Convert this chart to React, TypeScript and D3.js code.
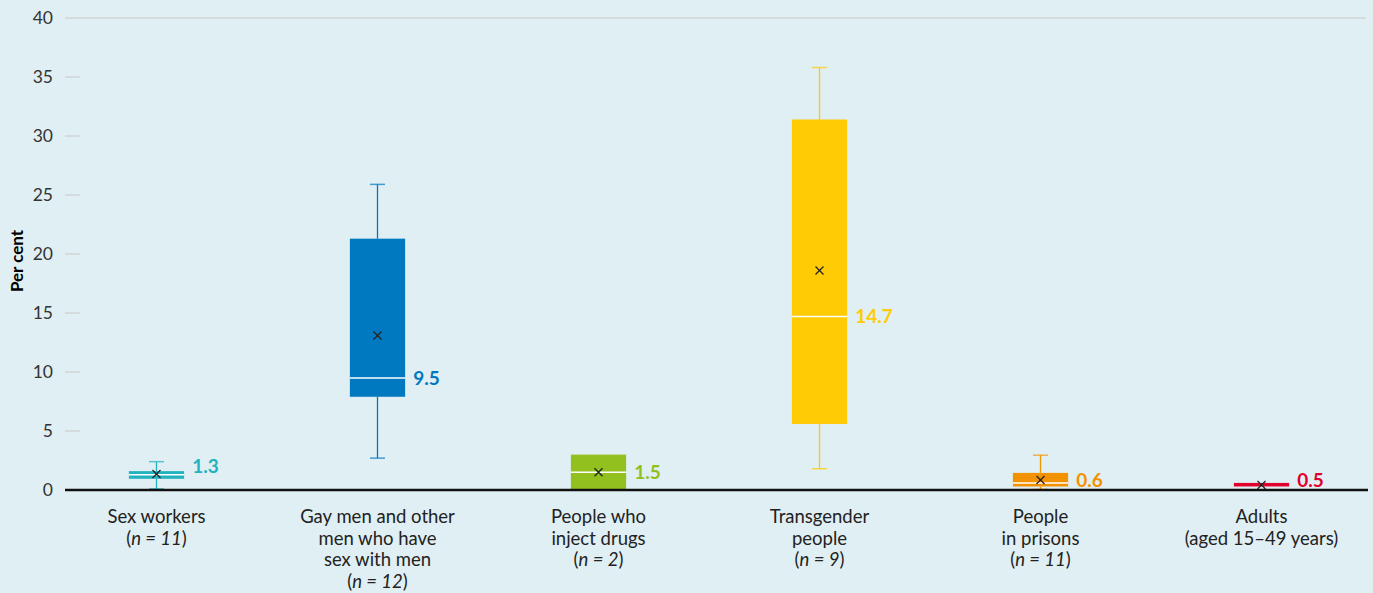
import React from "react";
import * as d3 from "d3";

const categories = ["Sex workers", "Gay men and other men who have sex with men", "People who inject drugs", "Transgender people", "People in prisons", "Adults (aged 15–49 years)"];
const labelLines: string[][] = [
  ["Sex workers"],
  ["Gay men and other", "men who have", "sex with men"],
  ["People who", "inject drugs"],
  ["Transgender", "people"],
  ["People", "in prisons"],
  ["Adults", "(aged 15–49 years)"],
];
const nCounts: (number | null)[] = [11, 12, 2, 9, 11, null];
const mins: (number | null)[] = [0.1, 2.7, null, 1.8, 0.05, null];
const q1s = [0.95, 7.9, 0.0, 5.6, 0.3, 0.3];
const medians = [1.3, 9.5, 1.5, 14.7, 0.6, 0.5];
const q3s = [1.6, 21.3, 3.0, 31.4, 1.45, 0.6];
const maxs: (number | null)[] = [2.4, 25.9, null, 35.8, 2.95, null];
const means = [1.35, 13.1, 1.5, 18.6, 0.85, 0.42];
const colors = ["#22b3bf", "#0079c1", "#92c01f", "#ffcb05", "#f39200", "#e2002c"];
const yTicks = [0, 5, 10, 15, 20, 25, 30, 35, 40];

const W = 1373, H = 593;
const FONT = "Lato, 'Noto Sans', sans-serif";

export default function App() {
  const y = d3.scaleLinear().domain([0, 40]).range([490, 18]);
  const x = d3.scaleBand<number>().domain(d3.range(categories.length)).range([46, 1372]).paddingInner(0.75).paddingOuter(0.375);
  const bw = x.bandwidth();
  const labelNudge = (i: number) => {
    const ym = y(medians[i]);
    if (i === 0) return ym - 8;
    return Math.min(ym, y(0) - 10);
  };
  return (
    <svg width={W} height={H} style={{ position: "absolute", left: 0, top: 0, background: "#e0eff3" }}>
      <rect x={0} y={0} width={W} height={H} fill="#e0eff3" />
      {yTicks.map((t) => (
        <g key={t}>
          <text x={53} y={y(t)} dy="0.35em" textAnchor="end" fontFamily={FONT} fontSize={17.5} fill="#333">{t}</text>
          {t !== 0 && t !== 40 && <line x1={65} x2={80} y1={y(t)} y2={y(t)} stroke="#c8c8c8" strokeWidth={1} />}
        </g>
      ))}
      <line x1={65} x2={1366} y1={y(40)} y2={y(40)} stroke="#c8c8c8" strokeWidth={1} />
      <text transform={`translate(23,${261}) rotate(-90)`} textAnchor="middle" fontFamily={FONT} fontWeight={700} fontSize={17} fill="#000">Per cent</text>
      {categories.map((c, i) => {
        const x0 = x(i)!;
        const cx = x0 + bw / 2;
        const col = colors[i];
        const mn = mins[i], mx = maxs[i];
        const boxH = y(q1s[i]) - y(q3s[i]);
        return (
          <g key={c}>
            {mx !== null && (
              <g>
                <line x1={cx} x2={cx} y1={y(mx)} y2={y(q3s[i])} stroke={col} strokeWidth={1.3} />
                <line x1={cx - 7.5} x2={cx + 7.5} y1={y(mx)} y2={y(mx)} stroke={col} strokeOpacity={0.7} strokeWidth={1.5} />
              </g>
            )}
            {mn !== null && (
              <g>
                <line x1={cx} x2={cx} y1={y(q1s[i])} y2={y(mn)} stroke={col} strokeWidth={1.3} />
                <line x1={cx - 7.5} x2={cx + 7.5} y1={y(mn)} y2={y(mn)} stroke={col} strokeOpacity={0.7} strokeWidth={1.5} />
              </g>
            )}
            <rect x={x0} y={y(q3s[i])} width={bw} height={boxH} fill={col} />
            {boxH > 6 && <line x1={x0} x2={x0 + bw} y1={y(medians[i])} y2={y(medians[i])} stroke="#fff" strokeWidth={1.5} />}
            <g transform={`translate(${cx},${y(means[i])})`} stroke="#222" strokeWidth={1.3}>
              <line x1={-4} y1={-4} x2={4} y2={4} />
              <line x1={-4} y1={4} x2={4} y2={-4} />
            </g>
            <text x={x0 + bw + 8} y={labelNudge(i)} dy="0.35em" fontFamily={FONT} fontWeight={700} fontSize={19} fill={col}>{d3.format(".1f")(medians[i])}</text>
            <text x={cx} y={523} textAnchor="middle" fontFamily={FONT} fontSize={18.5} fill="#222">
              {labelLines[i].map((l, k) => (
                <tspan key={k} x={cx} dy={k === 0 ? 0 : 21.5}>{l}</tspan>
              ))}
              {nCounts[i] !== null && (
                <tspan x={cx} dy={21.5}>(<tspan fontStyle="italic">n = {nCounts[i]}</tspan>)</tspan>
              )}
            </text>
          </g>
        );
      })}
      <line x1={65} x2={1368} y1={y(0)} y2={y(0)} stroke="#111" strokeWidth={2.5} />
    </svg>
  );
}
